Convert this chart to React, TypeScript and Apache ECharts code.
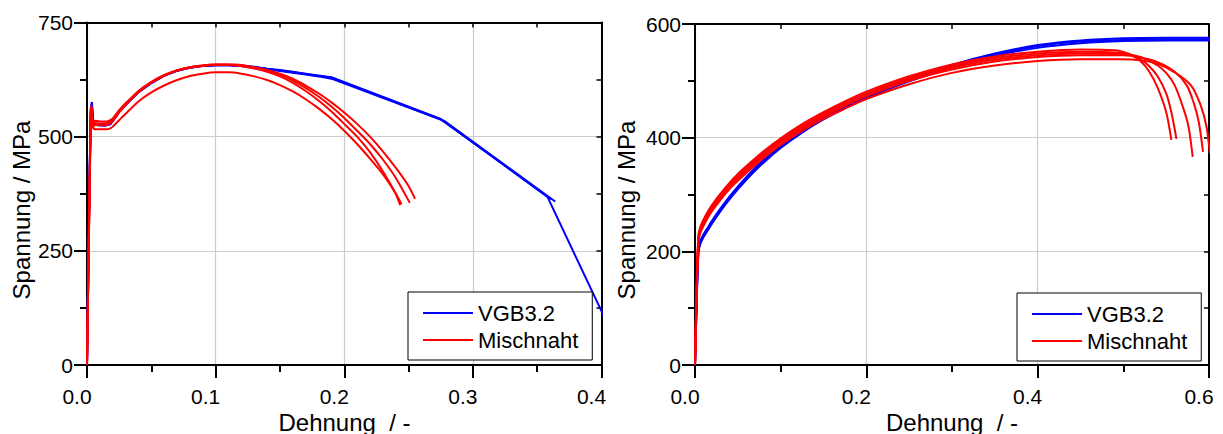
import React, { useEffect, useRef } from 'react';
import * as echarts from 'echarts';

const SERIES_NAMES = ['VGB3.2', 'Mischnaht'];
const X_TITLE = 'Dehnung  / -';
const Y_TITLE = 'Spannung / MPa';

// ---- left panel: x range / ticks ----
const leftXAxis = { min: 0, max: 0.4, interval: 0.1 };
const leftYAxis = { min: 0, max: 750, interval: 250 };
// ---- right panel ----
const rightXAxis = { min: 0, max: 0.6, interval: 0.2 };
const rightYAxis = { min: 0, max: 600, interval: 200 };

// ---- left panel, VGB3.2 (blue) ----
const leftBlue1 = [[0,0],[0.002,420],[0.003,565],[0.0038,576],[0.0045,545],[0.005,530],[0.008,527],[0.014,526],[0.018,528],[0.02,535],[0.025,555],[0.03,570],[0.04,598],[0.05,618],[0.06,634],[0.07,645],[0.08,651],[0.09,655],[0.1,657],[0.11,657],[0.12,655],[0.13,652],[0.14,648],[0.15,645],[0.16,641],[0.17,637],[0.18,633],[0.19,629],[0.276,537],[0.358,368],[0.4,118],[0.41,55]];
const leftBlue2 = [[0,0],[0.002,410],[0.003,560],[0.0038,572],[0.0045,542],[0.005,528],[0.008,525],[0.014,524],[0.018,527],[0.02,534],[0.025,554],[0.03,569],[0.04,597],[0.05,617],[0.06,633],[0.07,644],[0.08,651],[0.09,655],[0.1,656],[0.11,656],[0.12,655],[0.13,652],[0.14,648],[0.15,644],[0.16,640],[0.17,636],[0.18,632],[0.19,627],[0.278,534],[0.364,358]];
const leftBlue3 = [[0,0],[0.002,400],[0.003,555],[0.0038,568],[0.0045,540],[0.005,527],[0.008,526],[0.014,525],[0.018,527],[0.02,534],[0.025,555],[0.03,570],[0.04,598],[0.05,618],[0.06,634],[0.07,645],[0.08,652],[0.09,655],[0.1,657],[0.11,657],[0.12,656],[0.13,653],[0.14,649],[0.15,646],[0.16,642],[0.17,638],[0.18,634],[0.19,630],[0.274,540],[0.361,363]];

// ---- left panel, Mischnaht (red) ----
const leftRed1 = [[0,0],[0.002,380],[0.003,555],[0.0035,565],[0.004,540],[0.005,528],[0.006,535],[0.01,533],[0.015,533],[0.018,536],[0.02,540],[0.025,558],[0.03,573],[0.04,600],[0.05,620],[0.06,635],[0.07,645],[0.08,651],[0.09,655],[0.1,657],[0.11,657],[0.12,654],[0.13,649],[0.14,642],[0.15,632],[0.16,618],[0.17,600],[0.18,579],[0.19,555],[0.2,528],[0.21,500],[0.22,466],[0.23,424],[0.24,375],[0.2435,350]];
const leftRed2 = [[0,0],[0.002,400],[0.003,560],[0.0035,568],[0.004,538],[0.005,526],[0.006,530],[0.01,529],[0.016,530],[0.02,537],[0.025,556],[0.03,571],[0.04,598],[0.05,619],[0.06,634],[0.07,645],[0.08,652],[0.09,656],[0.1,658],[0.11,658],[0.12,656],[0.13,651],[0.14,645],[0.15,636],[0.16,623],[0.17,607],[0.18,588],[0.19,566],[0.2,541],[0.21,513],[0.22,484],[0.23,450],[0.24,410],[0.251,355]];
const leftRed3 = [[0,0],[0.002,390],[0.003,552],[0.0035,560],[0.004,535],[0.005,522],[0.006,526],[0.01,525],[0.016,526],[0.02,534],[0.025,553],[0.03,569],[0.04,597],[0.05,618],[0.06,634],[0.07,645],[0.08,652],[0.09,656],[0.1,658],[0.11,658],[0.12,657],[0.13,652],[0.14,646],[0.15,638],[0.16,627],[0.17,612],[0.18,595],[0.19,575],[0.2,553],[0.21,528],[0.22,500],[0.23,468],[0.24,432],[0.25,392],[0.255,364]];
const leftRed4 = [[0,0],[0.002,370],[0.003,545],[0.0035,555],[0.004,528],[0.005,518],[0.008,516],[0.015,516],[0.018,518],[0.02,522],[0.025,536],[0.03,550],[0.04,577],[0.05,597],[0.06,612],[0.07,624],[0.08,633],[0.09,638],[0.1,641],[0.11,641],[0.12,638],[0.13,632],[0.14,624],[0.15,613],[0.16,599],[0.17,582],[0.18,562],[0.19,539],[0.2,513],[0.21,484],[0.22,452],[0.23,418],[0.24,376],[0.2445,352]];

// ---- right panel, VGB3.2 (blue) ----
const rightBlue1 = [[0,0],[0.002,120],[0.004,205],[0.006,218],[0.01,230],[0.015,242],[0.02,254],[0.03,276],[0.04,296],[0.05,314],[0.06,331],[0.08,361],[0.1,386],[0.125,413],[0.15,436],[0.175,456],[0.2,474],[0.25,503],[0.3,528],[0.35,548],[0.4,563],[0.45,571],[0.5,575],[0.55,576],[0.6,576],[0.62,576]];
const rightBlue2 = [[0,0],[0.002,115],[0.004,200],[0.006,214],[0.01,227],[0.015,239],[0.02,251],[0.03,273],[0.04,293],[0.05,311],[0.06,328],[0.08,358],[0.1,384],[0.125,411],[0.15,434],[0.175,454],[0.2,472],[0.25,501],[0.3,526],[0.35,546],[0.4,561],[0.45,569],[0.5,572],[0.55,573],[0.6,573],[0.62,573]];
const rightBlue3 = [[0,0],[0.002,110],[0.004,198],[0.006,212],[0.01,225],[0.015,237],[0.02,249],[0.03,271],[0.04,291],[0.05,309],[0.06,326],[0.08,356],[0.1,382],[0.125,409],[0.15,432],[0.175,452],[0.2,470],[0.25,499],[0.3,524],[0.35,544],[0.4,558],[0.45,566],[0.5,570],[0.55,571],[0.6,571],[0.62,571]];

// ---- right panel, Mischnaht (red) ----
const rightRed1 = [[0,0],[0.002,150],[0.004,228],[0.006,242],[0.01,256],[0.015,270],[0.02,282],[0.03,302],[0.04,320],[0.05,336],[0.06,350],[0.08,376],[0.1,399],[0.125,424],[0.15,445],[0.175,464],[0.2,481],[0.25,508],[0.3,529],[0.35,543],[0.4,551],[0.45,555],[0.49,554],[0.5,551],[0.51,545],[0.52,535],[0.53,517],[0.54,488],[0.55,445],[0.556,396]];
const rightRed2 = [[0,0],[0.002,140],[0.004,225],[0.006,240],[0.01,254],[0.015,268],[0.02,280],[0.03,300],[0.04,318],[0.05,333],[0.06,347],[0.08,373],[0.1,396],[0.125,421],[0.15,442],[0.175,461],[0.2,478],[0.25,505],[0.3,526],[0.35,540],[0.4,548],[0.45,551],[0.5,549],[0.51,545],[0.52,538],[0.53,526],[0.54,508],[0.55,478],[0.556,445],[0.562,398]];
const rightRed3 = [[0,0],[0.002,135],[0.004,222],[0.006,237],[0.01,251],[0.015,265],[0.02,277],[0.03,297],[0.04,315],[0.05,330],[0.06,344],[0.08,370],[0.1,393],[0.125,418],[0.15,439],[0.175,458],[0.2,475],[0.25,502],[0.3,523],[0.35,537],[0.4,545],[0.45,548],[0.5,547],[0.52,542],[0.54,527],[0.55,514],[0.56,492],[0.57,452],[0.576,420],[0.581,366]];
const rightRed4 = [[0,0],[0.002,130],[0.004,220],[0.006,235],[0.01,249],[0.015,263],[0.02,275],[0.03,295],[0.04,313],[0.05,328],[0.06,342],[0.08,368],[0.1,391],[0.125,416],[0.15,437],[0.175,456],[0.2,473],[0.25,500],[0.3,520],[0.35,534],[0.4,542],[0.45,545],[0.5,545],[0.52,541],[0.54,533],[0.56,516],[0.574,492],[0.582,462],[0.588,428],[0.593,375]];
const rightRed5 = [[0,0],[0.002,125],[0.004,216],[0.006,231],[0.01,245],[0.015,259],[0.02,271],[0.03,291],[0.04,309],[0.05,324],[0.06,338],[0.08,364],[0.1,387],[0.125,412],[0.15,433],[0.175,451],[0.2,468],[0.25,494],[0.3,514],[0.35,527],[0.4,535],[0.45,538],[0.5,538],[0.52,536],[0.54,530],[0.56,515],[0.579,492],[0.59,458],[0.597,420],[0.601,372]];

const BLUE = '#0000ff';
const RED = '#ff0000';
const FONT = '"Liberation Sans", Arial, Helvetica, sans-serif';

function primaryX(grid: number, ax: any) {
  return {
    type: 'value', gridIndex: grid, min: ax.min, max: ax.max, interval: ax.interval, position: 'bottom',
    axisLine: { show: true, onZero: false, lineStyle: { color: '#000', width: 2 } },
    axisTick: { show: true, inside: false, length: 13, lineStyle: { color: '#000', width: 2 } },
    minorTick: { show: true, splitNumber: 2, length: 7, lineStyle: { color: '#000', width: 2 } },
    axisLabel: { show: true, margin: 21, fontSize: 21, fontFamily: FONT, color: '#000', padding: [0, 20, 0, 0], formatter: (v: number) => v.toFixed(1) },
    splitLine: { show: true, lineStyle: { color: '#cccccc', width: 1.2 } },
    minorSplitLine: { show: false },
  };
}
function secondaryX(grid: number, ax: any) {
  return {
    type: 'value', gridIndex: grid, min: ax.min, max: ax.max, interval: ax.interval, position: 'top',
    axisLine: { show: true, onZero: false, lineStyle: { color: '#000', width: 2 } },
    axisTick: { show: true, inside: true, length: 5, lineStyle: { color: '#000', width: 1.5 } },
    minorTick: { show: true, splitNumber: 2, length: 5, lineStyle: { color: '#000', width: 1.5 } },
    axisLabel: { show: false },
    splitLine: { show: false },
  };
}
function primaryY(grid: number, ax: any) {
  return {
    type: 'value', gridIndex: grid, min: ax.min, max: ax.max, interval: ax.interval, position: 'left',
    axisLine: { show: true, onZero: false, lineStyle: { color: '#000', width: 2 } },
    axisTick: { show: true, inside: false, length: 13, lineStyle: { color: '#000', width: 2 } },
    minorTick: { show: true, splitNumber: 2, length: 7, lineStyle: { color: '#000', width: 2 } },
    axisLabel: { show: true, margin: 14, fontSize: 21, fontFamily: FONT, color: '#000' },
    splitLine: { show: true, lineStyle: { color: '#cccccc', width: 1.2 } },
    minorSplitLine: { show: false },
  };
}
function secondaryY(grid: number, ax: any) {
  return {
    type: 'value', gridIndex: grid, min: ax.min, max: ax.max, interval: ax.interval, position: 'right',
    axisLine: { show: true, onZero: false, lineStyle: { color: '#000', width: 2 } },
    axisTick: { show: true, inside: true, length: 5, lineStyle: { color: '#000', width: 1.5 } },
    minorTick: { show: true, splitNumber: 2, length: 5, lineStyle: { color: '#000', width: 1.5 } },
    axisLabel: { show: false },
    splitLine: { show: false },
  };
}

function curve(name: string, color: string, data: number[][], axisIdx: number, smooth: number) {
  return {
    type: 'line', name, data, xAxisIndex: axisIdx, yAxisIndex: axisIdx,
    showSymbol: false, symbol: 'none', smooth, clip: true, silent: true,
    itemStyle: { color }, lineStyle: { color, width: 2 },
  };
}

function legend(left: number, top: number) {
  return {
    show: true, left, top, orient: 'vertical', data: SERIES_NAMES, selectedMode: false,
    icon: 'rect', padding: [10, 14, 9, 15], itemGap: 5, itemWidth: 50, itemHeight: 2,
    borderColor: '#000', borderWidth: 1, backgroundColor: '#fff', borderRadius: 0,
    textStyle: { fontSize: 22, fontFamily: FONT, color: '#000' },
    z: 10,
  };
}

export default function App() {
  const ref = useRef<HTMLDivElement>(null);
  useEffect(() => {
    document.body.style.margin = '0';
    if (!ref.current) return;
    const chart = echarts.init(ref.current, null, { renderer: 'svg' });
    const option: any = {
      animation: false,
      backgroundColor: '#fff',
      grid: [
        { left: 87, top: 22.5, width: 514.5, height: 342.5, containLabel: false },
        { left: 695, top: 24, width: 514, height: 341, containLabel: false },
      ],
      xAxis: [primaryX(0, leftXAxis), primaryX(1, rightXAxis), secondaryX(0, leftXAxis), secondaryX(1, rightXAxis)],
      yAxis: [primaryY(0, leftYAxis), primaryY(1, rightYAxis), secondaryY(0, leftYAxis), secondaryY(1, rightYAxis)],
      legend: [legend(408, 292), legend(1017, 293)],
      series: [
        curve(SERIES_NAMES[0], BLUE, leftBlue1, 0, 0),
        curve(SERIES_NAMES[0], BLUE, leftBlue2, 0, 0),
        curve(SERIES_NAMES[0], BLUE, leftBlue3, 0, 0),
        curve(SERIES_NAMES[1], RED, leftRed1, 0, 0.2),
        curve(SERIES_NAMES[1], RED, leftRed2, 0, 0.2),
        curve(SERIES_NAMES[1], RED, leftRed3, 0, 0.2),
        curve(SERIES_NAMES[1], RED, leftRed4, 0, 0.2),
        curve(SERIES_NAMES[0], BLUE, rightBlue1, 1, 0.3),
        curve(SERIES_NAMES[0], BLUE, rightBlue2, 1, 0.3),
        curve(SERIES_NAMES[0], BLUE, rightBlue3, 1, 0.3),
        curve(SERIES_NAMES[1], RED, rightRed1, 1, 0.3),
        curve(SERIES_NAMES[1], RED, rightRed2, 1, 0.3),
        curve(SERIES_NAMES[1], RED, rightRed3, 1, 0.3),
        curve(SERIES_NAMES[1], RED, rightRed4, 1, 0.3),
        curve(SERIES_NAMES[1], RED, rightRed5, 1, 0.3),
      ],
      graphic: [
        { type: 'text', x: 21.7, y: 210, rotation: Math.PI / 2, style: { text: Y_TITLE, fontSize: 24, fontFamily: FONT, fill: '#000', align: 'center', verticalAlign: 'middle' } },
        { type: 'text', x: 626, y: 210, rotation: Math.PI / 2, style: { text: Y_TITLE, fontSize: 24, fontFamily: FONT, fill: '#000', align: 'center', verticalAlign: 'middle' } },
        { type: 'text', x: 344.5, y: 422, style: { text: X_TITLE, fontSize: 24, fontFamily: FONT, fill: '#000', align: 'center', verticalAlign: 'middle' } },
        { type: 'text', x: 952, y: 422, style: { text: X_TITLE, fontSize: 24, fontFamily: FONT, fill: '#000', align: 'center', verticalAlign: 'middle' } },
      ],
    };
    chart.setOption(option);
    return () => chart.dispose();
  }, []);
  return <div ref={ref} style={{ width: 1223, height: 434 }} />;
}
